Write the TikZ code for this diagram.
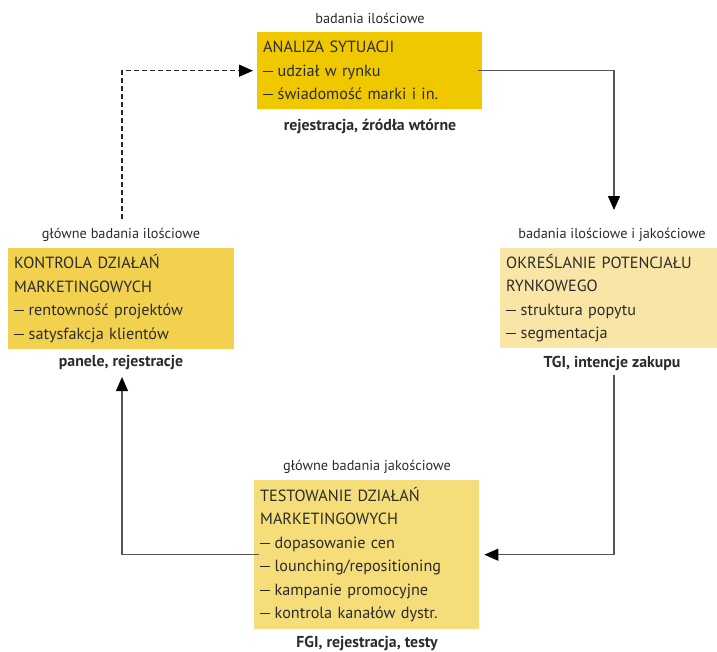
\documentclass[tikz,border=0pt]{standalone}
\usepackage{fontspec}
\setmainfont{PT Sans}
\usetikzlibrary{arrows.meta}
\definecolor{txt}{HTML}{2B2B2B}
\definecolor{cTop}{HTML}{F0C800}
\definecolor{cLeft}{HTML}{F2D14F}
\definecolor{cRight}{HTML}{F9E6A6}
\definecolor{cBot}{HTML}{F5DD7A}
\definecolor{lin}{HTML}{555555}
\newcommand\dsh{\rule[4.6pt]{10pt}{1.1pt}\hspace{4.5pt}}
\begin{document}
\begin{tikzpicture}[x=1pt,y=-1pt,
  box/.style={anchor=north west, align=left, inner xsep=6pt, inner ysep=0pt,
    text=txt, font=\fontsize{16.2}{23.5}\selectfont, minimum height=#1},
  lab/.style={text=txt, font=\fontsize{14.3}{16}\selectfont, inner sep=0pt},
  blab/.style={text=txt, font=\fontsize{15.8}{18}\selectfont\bfseries, inner sep=0pt},
  conn/.style={draw=lin, line width=1.3pt},
  tip/.style={-{Triangle[length=14pt,width=12pt,black]}},
  dconn/.style={draw=black!85, line width=1.3pt, dash pattern=on 5pt off 3pt}]
\useasboundingbox (0,0) rectangle (717,651);
% boxes
\node[box=77pt, fill=cTop, text width=213pt] (top) at (257,32)
  {ANALIZA SYTUACJI\\\dsh udział w rynku\\\dsh świadomość marki i in.};
\node[box=101pt, fill=cLeft, text width=214pt] (left) at (8,248)
  {KONTROLA DZIAŁAŃ\\MARKETINGOWYCH\\\dsh rentowność projektów\\\dsh satysfakcja klientów};
\node[box=100pt, fill=cRight, text width=205pt] (right) at (500,248)
  {OKREŚLANIE POTENCJAŁU\\RYNKOWEGO\\\dsh struktura popytu\\\dsh segmentacja};
\node[box=149pt, fill=cBot, text width=213pt] (bot) at (254,480)
  {TESTOWANIE DZIAŁAŃ\\MARKETINGOWYCH\\\dsh dopasowanie cen\\\dsh lounching/repositioning\\\dsh kampanie promocyjne\\\dsh kontrola kanałów dystr.};
% labels
\node[lab] (topL) at (370,18) {badania ilościowe};
\node[blab] (topB) at (370,126) {rejestracja, źródła wtórne};
\node[lab] (leftL) at (121,235) {główne badania ilościowe};
\node[blab] (leftB) at (121,363) {panele, rejestracje};
\node[lab] (rightL) at (612,235) {badania ilościowe i jakościowe};
\node[blab] (rightB) at (612,363) {TGI, intencje zakupu};
\node[lab] (botL) at (367,467) {główne badania jakościowe};
\node[blab] (botB) at (367,643) {FGI, rejestracja, testy};
% coordinates
\coordinate (rTip) at (614,210);
\coordinate (rStart) at (614,375);
\coordinate (lTip) at (122,377);
\coordinate (dStart) at (122,219);
% connectors
\draw[conn, tip] ([xshift=-4pt]top.east) -| (rTip);
\draw[conn, tip, shorten >=5pt] (rStart) |- (bot.east);
\draw[conn, tip] ([xshift=5pt]bot.west) -| (lTip);
\draw[dconn, tip, shorten >=4pt] (dStart) |- (top.west);
\end{tikzpicture}
\end{document}
